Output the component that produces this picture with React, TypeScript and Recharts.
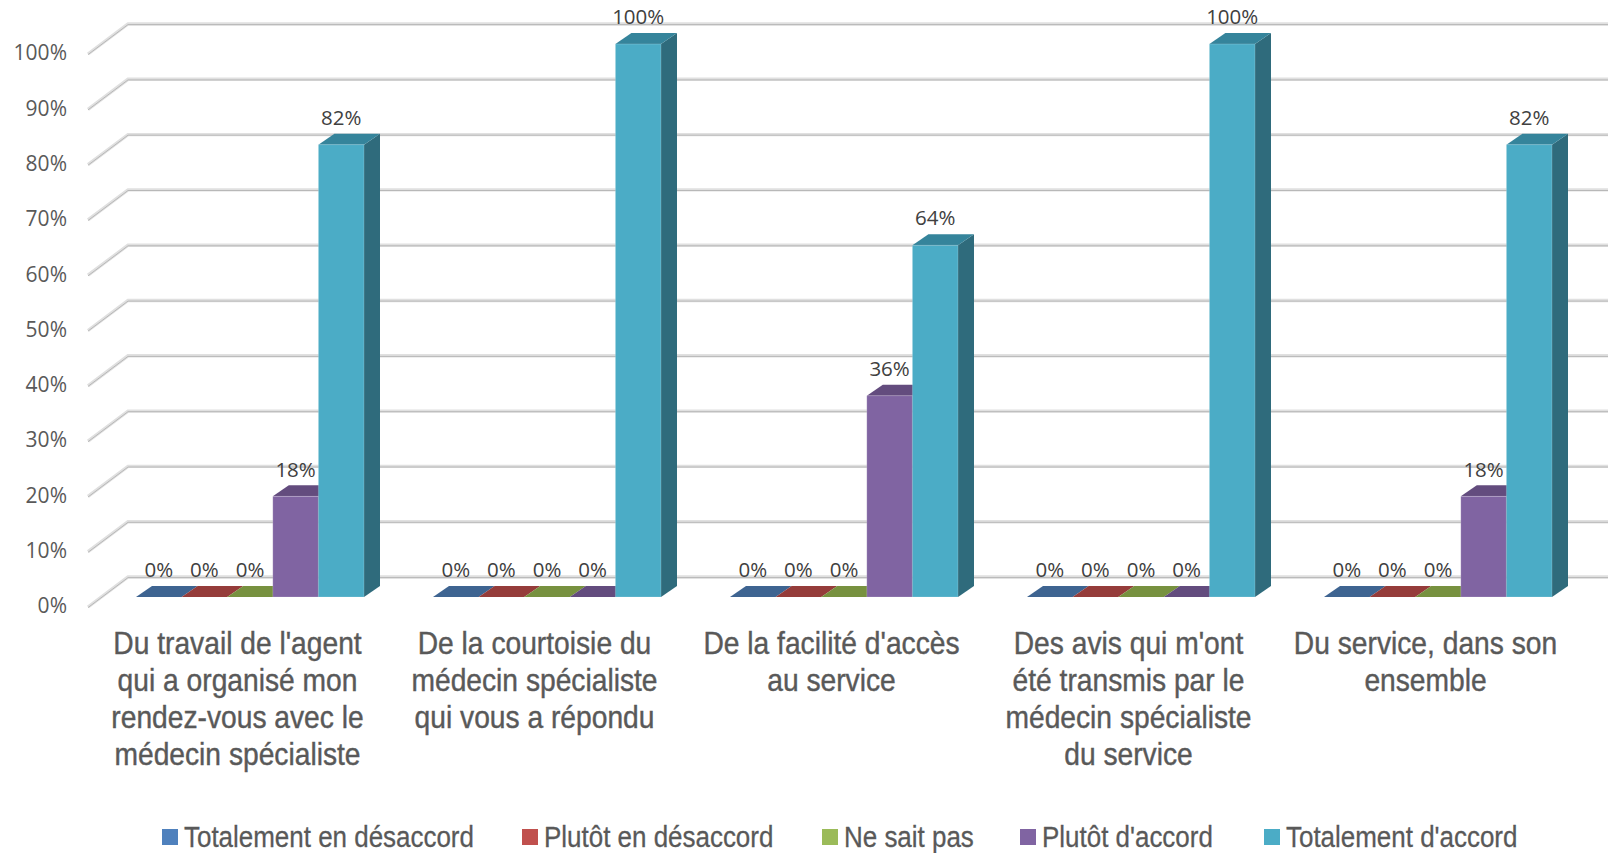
import { Bar, BarChart, CartesianGrid, LabelList, Legend, XAxis, YAxis } from "recharts";

const categories = [
  "Du travail de l'agent\nqui a organisé mon\nrendez-vous avec le\nmédecin spécialiste",
  "De la courtoisie du\nmédecin spécialiste\nqui vous a répondu",
  "De la facilité d'accès\nau service",
  "Des avis qui m'ont\nété transmis par le\nmédecin spécialiste\ndu service",
  "Du service, dans son\nensemble",
];
const totalementDesaccord = [0, 0, 0, 0, 0];
const plutotDesaccord = [0, 0, 0, 0, 0];
const neSaitPas = [0, 0, 0, 0, 0];
const plutotAccord = [18.2, 0, 36.4, 0, 18.2];
const totalementAccord = [81.8, 100, 63.6, 100, 81.8];
const yTicks = [0, 10, 20, 30, 40, 50, 60, 70, 80, 90, 100];

const data = categories.map((label, i) => ({
  label,
  a: totalementDesaccord[i],
  b: plutotDesaccord[i],
  c: neSaitPas[i],
  d: plutotAccord[i],
  e: totalementAccord[i],
}));

const series = [
  { key: "a", name: "Totalement en désaccord", front: "#4f81bd", top: "#3e6491", side: "#345478" },
  { key: "b", name: "Plutôt en désaccord", front: "#c0504d", top: "#953c3a", side: "#7c3230" },
  { key: "c", name: "Ne sait pas", front: "#9bbb59", top: "#77913f", side: "#637935" },
  { key: "d", name: "Plutôt d'accord", front: "#8064a2", top: "#634c7e", side: "#523f69" },
  { key: "e", name: "Totalement d'accord", front: "#4bacc6", top: "#35849b", side: "#2f6b7c" },
];

// left edge of each legend swatch
const legendLefts = [162, 522, 822, 1020, 1264];

const DEPTH_X = 16;
const DEPTH_Y = 11;

function Bar3D(props: any) {
  const { x, y, width, height, front, top, side } = props;
  return (
    <g>
      <path
        d={`M${x + width} ${y} l${DEPTH_X} ${-DEPTH_Y} v${height} l${-DEPTH_X} ${DEPTH_Y} z`}
        fill={side}
      />
      <path
        d={`M${x} ${y} l${DEPTH_X} ${-DEPTH_Y} h${width} l${-DEPTH_X} ${DEPTH_Y} z`}
        fill={top}
      />
      {height > 0 && (
        <rect x={x} y={y} width={width} height={height} fill={front} stroke="#ffffff" strokeOpacity={0.18} />
      )}
    </g>
  );
}

function GridLine(props: any) {
  const { x1, y1 } = props;
  const d = `M${x1 - 13} ${y1 + 10} L${x1 + 27} ${y1 - 20} H1608`;
  return (
    <g fill="none">
      <path d={d} stroke="#e0e0e0" strokeWidth={3.4} />
      <path d={d} stroke="#b8b8b8" strokeWidth={1} transform="translate(0 0.6)" />
    </g>
  );
}

function YTick({ y, payload }: any) {
  return (
    <text x={67} y={y + 9} dy="0.35em" textAnchor="end" fontFamily="'Open Sans'" fontSize={21} fill="#595959">
      {payload.value}%
    </text>
  );
}

function XTick({ x, y, payload }: any) {
  const lines = String(payload.value).split("\n");
  return (
    <text
      transform={`translate(${x - 12} ${y + 49}) scale(0.91 1)`}
      textAnchor="middle"
      fontFamily="'Liberation Sans'"
      fontSize={31}
      fill="#595959"
      stroke="#595959"
      strokeWidth={0.4}
    >
      {lines.map((line, i) => (
        <tspan key={i} x={0} y={i * 37}>
          {line}
        </tspan>
      ))}
    </text>
  );
}

function BarValue({ x, y, width, value }: any) {
  return (
    <text
      x={x + width / 2}
      y={y - 27}
      dy="0.35em"
      textAnchor="middle"
      fontFamily="'Open Sans'"
      fontSize={20.5}
      fill="#404040"
    >
      {Math.round(value)}%
    </text>
  );
}

function LegendRow() {
  return (
    <div
      style={{
        position: "relative",
        height: 24,
        fontFamily: "'Liberation Sans'",
        fontSize: 30,
        lineHeight: "24px",
        color: "#595959",
        whiteSpace: "nowrap",
        WebkitTextStroke: "0.3px #595959",
      }}
    >
      {series.map((s, i) => (
        <span key={s.key} style={{ position: "absolute", left: legendLefts[i], top: 0 }}>
          <span style={{ position: "absolute", left: 0, top: 4, width: 16, height: 16, background: s.front }} />
          <span
            style={{
              position: "absolute",
              left: 22,
              top: 0,
              transform: "scaleX(0.865)",
              transformOrigin: "left center",
            }}
          >
            {s.name}
          </span>
        </span>
      ))}
    </div>
  );
}

export default function App() {
  return (
    <div style={{ width: 1608, height: 853, position: "relative", background: "#fff" }}>
      <style>{"body{margin:0}"}</style>
      <BarChart
        width={1608}
        height={853}
        data={data}
        margin={{ top: 44, right: 22, bottom: 0, left: 0 }}
        barSize={45.6}
        barGap={0}
      >
        <CartesianGrid vertical={false} horizontal={(p: any) => <GridLine key={p.key} {...p} />} />
        <XAxis dataKey="label" height={232} axisLine={false} tickLine={false} interval={0} tick={XTick} />
        <YAxis
          width={101}
          domain={[0, 100]}
          ticks={yTicks}
          axisLine={false}
          tickLine={false}
          interval={0}
          tick={YTick}
        />
        <Legend content={LegendRow} wrapperStyle={{ bottom: 4, left: 0, width: 1608 }} />
        {series.map((s) => (
          <Bar
            key={s.key}
            dataKey={s.key}
            name={s.name}
            fill={s.front}
            isAnimationActive={false}
            shape={(p: any) => <Bar3D {...p} front={s.front} top={s.top} side={s.side} />}
          >
            <LabelList dataKey={s.key} content={BarValue} />
          </Bar>
        ))}
      </BarChart>
    </div>
  );
}
